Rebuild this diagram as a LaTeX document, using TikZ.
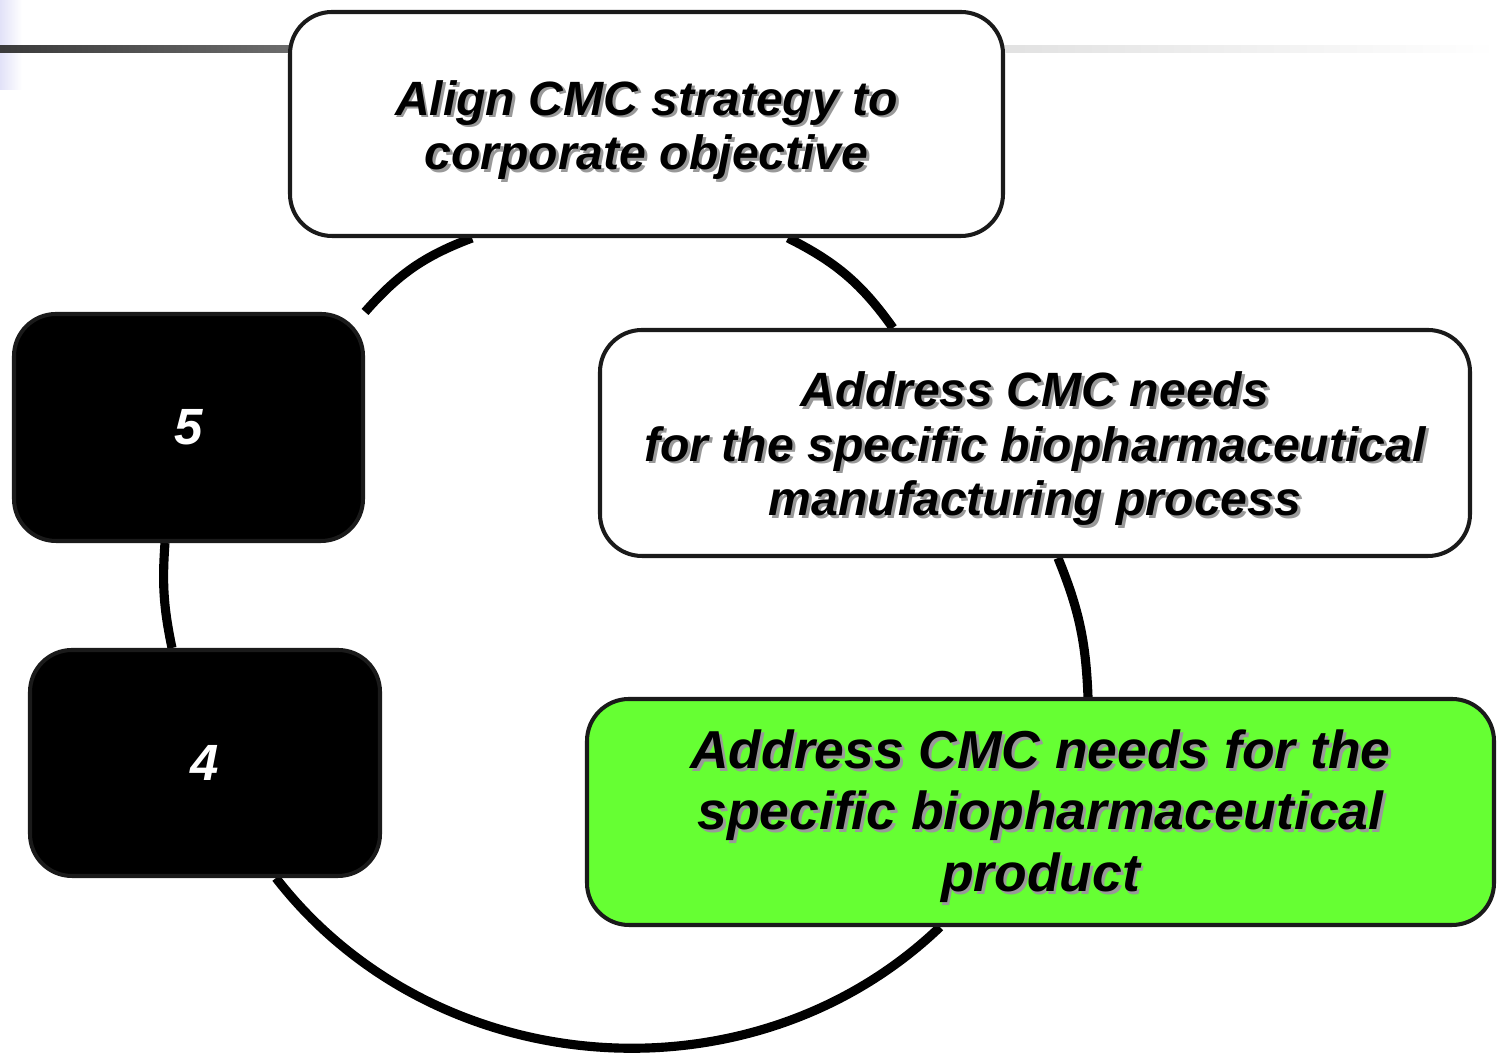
\documentclass[tikz,border=0pt]{standalone}
\usepackage{fontspec}
\setmainfont{Liberation Sans}
\usetikzlibrary{positioning,backgrounds}
\definecolor{boxgreen}{RGB}{102,255,51}
\definecolor{edgegray}{RGB}{26,26,26}
\definecolor{lavender}{RGB}{226,226,248}
% 文字阴影: 先画一份灰色的偏移副本
\newcommand{\shadowed}[1]{\rlap{\kern0.8pt\raisebox{-0.8pt}{\textcolor{black!40}{#1}}}#1}

\begin{document}
\begin{tikzpicture}[
    box/.style={draw=edgegray, line width=1.15pt, rounded corners=0.42cm,
        align=center, inner sep=0pt},
    stagetext/.style={align=center, inner sep=0pt,
        font=\fontsize{13.7}{15.6}\selectfont\bfseries\itshape},
    bigtext/.style={align=center, inner sep=0pt,
        font=\fontsize{15.2}{17.5}\selectfont\bfseries\itshape},
    darkbox/.style={box, fill=black, text=white,
        font=\fontsize{14.5}{17}\selectfont\bfseries\itshape},
    cycle/.style={line width=2.6pt, black}
]
            \useasboundingbox (0,0) rectangle (14.97,10.54);
            % 左上角的装饰条
            \shade[left color=lavender, right color=white]
                (0,9.64) rectangle (0.22,10.54);
            \shade[left color=black!77, right color=black!57]
                (0,10.01) rectangle (3.0,10.08);
            \shade[left color=black!12, right color=white]
                (9.9,10.01) rectangle (14.97,10.08);

            \node[box, fill=white, minimum width=7.13cm, minimum height=2.24cm]
                (align) at (6.465,9.30) {};
            \node[box, fill=white, minimum width=8.70cm, minimum height=2.26cm]
                (process) at (10.35,6.11) {};
            \node[box, fill=boxgreen, minimum width=9.07cm, minimum height=2.26cm]
                (product) at (10.405,2.42) {};
            \node[darkbox, minimum width=3.49cm, minimum height=2.27cm]
                (five) at (1.885,6.265) {5};
            \node[darkbox, minimum width=3.50cm, minimum height=2.26cm]
                (four) at (2.05,2.91) {4};

            % 文字单独放, 比方框中心稍低一点
            \node[stagetext] (align-text) at ([yshift=-0.075cm]align.center)
                {\shadowed{Align CMC strategy to}\\\shadowed{corporate objective}};
            \node[stagetext] (process-text) at ([yshift=-0.07cm]process.center)
                {\shadowed{Address CMC needs}\\
                 \shadowed{for the specific biopharmaceutical}\\
                 \shadowed{manufacturing process}};
            \node[bigtext] (product-text) at ([yshift=-0.055cm]product.center)
                {\shadowed{Address CMC needs for the}\\
                 \shadowed{specific biopharmaceutical}\\
                 \shadowed{product}};

            % 圆弧放在背景层, 被方框盖住
            \begin{scope}[on background layer]
                \draw[cycle] ([xshift=-1.745cm]align.south) to[bend right=14] (five.north east);
                \draw[cycle] ([xshift=1.415cm]align.south) to[bend left=14]
                    ([xshift=-1.42cm]process.north);
                \draw[cycle] ([xshift=0.23cm]process.south) to[bend left=10]
                    ([xshift=0.475cm]product.north);
                \draw[cycle] ([xshift=-1.005cm]product.south) to[bend left=48]
                    ([xshift=0.71cm]four.south);
                \draw[cycle] ([xshift=-0.33cm]four.north) to[bend left=8]
                    ([xshift=-0.235cm]five.south);
            \end{scope}
        \end{tikzpicture}
\end{document}
